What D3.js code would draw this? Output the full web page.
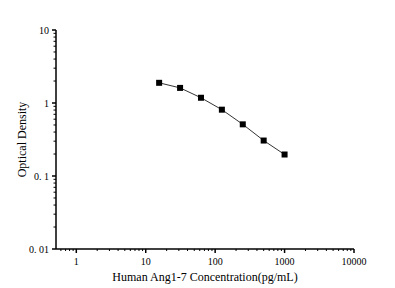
<!DOCTYPE html>
<html>
<head>
<meta charset="utf-8">
<script src="https://cdn.jsdelivr.net/npm/d3@7/dist/d3.min.js"></script>
<style>
  body { margin: 0; background: #fff; }
  svg { display: block; }
  text { font-family: "Liberation Serif", "Times New Roman", serif; fill: #000; }
</style>
</head>
<body>
<div id="chart"></div>
<script>
// standard curve data
const concentrations = [15.6, 31.25, 62.5, 125, 250, 500, 1000];
const opticalDensity = [1.89, 1.61, 1.18, 0.81, 0.51, 0.306, 0.197];
const xTickValues = [1, 10, 100, 1000, 10000];
const xTickLabels = ['1', '10', '100', '1000', '10000'];
const yTickValues = [0.01, 0.1, 1, 10];
const yTickLabels = ['0. 01', '0. 1', '1', '10'];

const width = 395, height = 288;
const svg = d3.select('#chart').append('svg')
    .attr('width', width)
    .attr('height', height);

const x = d3.scaleLog().domain([0.51, 10000]).range([56, 354]);
const y = d3.scaleLog().domain([0.01, 10]).range([249, 30]);

// minor ticks (2..9 in each decade)
const minor = (lo, hi) => {
    const out = [];
    for (let e = Math.floor(Math.log10(lo)); e < Math.ceil(Math.log10(hi)); e++) {
        for (let m = 2; m <= 9; m++) {
            const v = m * Math.pow(10, e);
            if (v >= lo && v <= hi) out.push(v);
        }
    }
    return out;
};

// x axis
const gx = svg.append('g').attr('transform', `translate(0,${y(0.01)})`);
gx.append('line').attr('x1', x.range()[0]).attr('x2', x.range()[1])
    .attr('stroke', '#000').attr('stroke-width', 1.5);
gx.selectAll('.minor').data(minor(0.51, 10000)).enter().append('line')
    .attr('x1', d => x(d)).attr('x2', d => x(d))
    .attr('y1', 0).attr('y2', 2)
    .attr('stroke', '#000').attr('stroke-width', 1);
gx.selectAll('.major').data(xTickValues).enter().append('line')
    .attr('x1', d => x(d)).attr('x2', d => x(d))
    .attr('y1', 0).attr('y2', 4)
    .attr('stroke', '#000').attr('stroke-width', 1.5);
gx.selectAll('.lbl').data(xTickValues).enter().append('text')
    .attr('x', d => x(d)).attr('y', 16)
    .attr('text-anchor', 'middle')
    .style('font-size', '10px')
    .text((d, i) => xTickLabels[i]);

// y axis
const gy = svg.append('g').attr('transform', `translate(${x.range()[0]},0)`);
gy.append('line').attr('y1', y.range()[0]).attr('y2', y.range()[1])
    .attr('stroke', '#000').attr('stroke-width', 1.5);
gy.selectAll('.minor').data(minor(0.01, 10)).enter().append('line')
    .attr('y1', d => y(d)).attr('y2', d => y(d))
    .attr('x1', 0).attr('x2', -2.5)
    .attr('stroke', '#000').attr('stroke-width', 1);
gy.selectAll('.major').data(yTickValues).enter().append('line')
    .attr('y1', d => y(d)).attr('y2', d => y(d))
    .attr('x1', 0).attr('x2', -4)
    .attr('stroke', '#000').attr('stroke-width', 1.5);
gy.selectAll('.lbl').data(yTickValues).enter().append('text')
    .attr('x', -7).attr('y', d => y(d) + 3.5)
    .attr('text-anchor', 'end')
    .style('font-size', '10px')
    .text((d, i) => yTickLabels[i]);

// axis titles
svg.append('text')
    .attr('x', 205).attr('y', 281)
    .attr('text-anchor', 'middle')
    .style('font-size', '12px')
    .text('Human Ang1-7 Concentration(pg/mL)');
svg.append('text')
    .attr('transform', `translate(26,${(y.range()[0] + y.range()[1]) / 2}) rotate(-90)`)
    .attr('text-anchor', 'middle')
    .style('font-size', '12px')
    .text('Optical Density');

// curve
const pts = concentrations.map((c, i) => [c, opticalDensity[i]]);
svg.append('path')
    .datum(pts)
    .attr('fill', 'none')
    .attr('stroke', '#333')
    .attr('stroke-width', 1)
    .attr('d', d3.line().x(d => x(d[0])).y(d => y(d[1])));
svg.selectAll('.pt').data(pts).enter().append('rect')
    .attr('x', d => x(d[0]) - 3)
    .attr('y', d => y(d[1]) - 3)
    .attr('width', 6).attr('height', 6)
    .attr('fill', '#000');
</script>
</body>
</html>
